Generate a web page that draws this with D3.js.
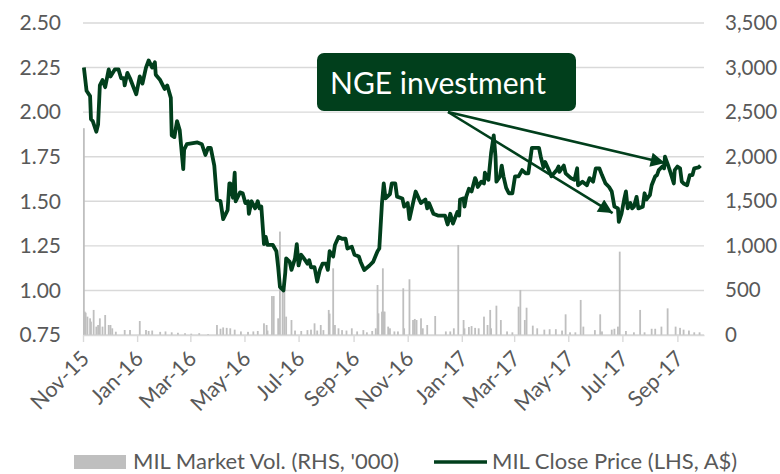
<!DOCTYPE html>
<html>
<head>
<meta charset="utf-8">
<script src="https://cdn.jsdelivr.net/npm/d3@7"></script>
<style>
  body { margin: 0; background: #fff; }
  svg { display: block; font-family: Lato, sans-serif; }
</style>
</head>
<body>
<div id="chart"></div>
<script>
// MIL close price (LHS, A$)
const priceDates = [
  "2015-11-02","2015-11-05","2015-11-09","2015-11-10","2015-11-12","2015-11-16","2015-11-18","2015-11-20","2015-11-23","2015-11-26",
  "2015-11-30","2015-12-02","2015-12-07","2015-12-11","2015-12-14","2015-12-17","2015-12-18","2015-12-21","2015-12-24","2015-12-31",
  "2016-01-04","2016-01-07","2016-01-11","2016-01-14","2016-01-18","2016-01-21","2016-01-22","2016-01-27","2016-02-01","2016-02-04",
  "2016-02-08","2016-02-09","2016-02-12","2016-02-15","2016-02-18","2016-02-22","2016-02-23","2016-02-26","2016-03-09","2016-03-14",
  "2016-03-18","2016-03-21","2016-03-24","2016-03-28","2016-03-31","2016-04-04","2016-04-07","2016-04-12","2016-04-14","2016-04-15",
  "2016-04-18","2016-04-20","2016-04-21","2016-04-26","2016-04-29","2016-05-02","2016-05-05","2016-05-06","2016-05-09","2016-05-13",
  "2016-05-16","2016-05-18","2016-05-20","2016-05-23","2016-05-25","2016-05-27","2016-06-02","2016-06-06","2016-06-08","2016-06-10",
  "2016-06-14","2016-06-16","2016-06-17","2016-06-21","2016-06-23","2016-06-27","2016-06-29","2016-07-01","2016-07-04","2016-07-07",
  "2016-07-11","2016-07-13","2016-07-15","2016-07-19","2016-07-22","2016-07-25","2016-07-28","2016-08-01","2016-08-03","2016-08-05",
  "2016-08-09","2016-08-11","2016-08-15","2016-08-19","2016-08-23","2016-08-25","2016-08-30","2016-09-02","2016-09-07","2016-09-09",
  "2016-09-13","2016-09-19","2016-09-23","2016-09-28","2016-09-30","2016-10-03","2016-10-05","2016-10-07","2016-10-12","2016-10-14",
  "2016-10-18","2016-10-20","2016-10-26","2016-10-28","2016-11-01","2016-11-03","2016-11-07","2016-11-10","2016-11-14","2016-11-16",
  "2016-11-21","2016-11-23","2016-11-25","2016-11-30","2016-12-05","2016-12-13","2016-12-16","2016-12-19","2016-12-22","2016-12-27",
  "2016-12-29","2016-12-30","2017-01-03","2017-01-04","2017-01-06","2017-01-09","2017-01-12","2017-01-16","2017-01-17","2017-01-19",
  "2017-01-23","2017-01-26","2017-01-27","2017-01-31","2017-02-03","2017-02-06","2017-02-08","2017-02-09","2017-02-13","2017-02-15",
  "2017-02-17","2017-02-20","2017-02-23","2017-02-27","2017-03-02","2017-03-06","2017-03-10","2017-03-14","2017-03-17","2017-03-21",
  "2017-03-29","2017-03-31","2017-04-03","2017-04-05","2017-04-10","2017-04-12","2017-04-18","2017-04-20","2017-04-21","2017-04-26",
  "2017-04-28","2017-05-04","2017-05-08","2017-05-11","2017-05-12","2017-05-17","2017-05-22","2017-05-25","2017-05-29","2017-06-01",
  "2017-06-05","2017-06-08","2017-06-12","2017-06-16","2017-06-19","2017-06-22","2017-06-26","2017-06-27","2017-06-30","2017-07-03",
  "2017-07-05","2017-07-07","2017-07-10","2017-07-12","2017-07-14","2017-07-17","2017-07-19","2017-07-24","2017-07-26","2017-07-28",
  "2017-08-01","2017-08-03","2017-08-07","2017-08-09","2017-08-11","2017-08-15","2017-08-17","2017-08-18","2017-08-22","2017-08-24",
  "2017-08-28","2017-08-29","2017-09-01","2017-09-04","2017-09-06","2017-09-08","2017-09-12","2017-09-15","2017-09-18","2017-09-20",
  "2017-09-25","2017-09-27"
];
const closePrice = [
  2.25, 2.12, 2.09, 1.96, 1.95, 1.89, 1.93, 2.15, 2.18, 2.14,
  2.24, 2.20, 2.24, 2.24, 2.19, 2.19, 2.15, 2.22, 2.19, 2.10,
  2.20, 2.16, 2.25, 2.29, 2.25, 2.28, 2.21, 2.18, 2.13, 2.15,
  2.08, 1.87, 1.86, 1.95, 1.90, 1.68, 1.79, 1.82, 1.83, 1.82,
  1.76, 1.80, 1.80, 1.70, 1.51, 1.50, 1.40, 1.45, 1.60, 1.60,
  1.52, 1.66, 1.50, 1.55, 1.545, 1.49, 1.50, 1.43, 1.50, 1.46,
  1.50, 1.46, 1.47, 1.26, 1.30, 1.255, 1.255, 1.22, 1.13, 1.02,
  1.00, 1.10, 1.18, 1.16, 1.115, 1.18, 1.26, 1.14, 1.20, 1.18,
  1.15, 1.17, 1.13, 1.13, 1.05, 1.115, 1.15, 1.15, 1.115, 1.22,
  1.19, 1.255, 1.30, 1.29, 1.29, 1.235, 1.245, 1.20, 1.19, 1.16,
  1.115, 1.14, 1.16, 1.22, 1.235, 1.49, 1.60, 1.516, 1.54, 1.60,
  1.60, 1.526, 1.516, 1.47, 1.49, 1.40, 1.49, 1.555, 1.51, 1.49,
  1.51, 1.46, 1.49, 1.43, 1.42, 1.42, 1.37, 1.43, 1.375, 1.44,
  1.42, 1.51, 1.516, 1.47, 1.526, 1.57, 1.555, 1.63, 1.62, 1.58,
  1.61, 1.60, 1.66, 1.62, 1.77, 1.87, 1.75, 1.61, 1.64, 1.70,
  1.64, 1.575, 1.545, 1.545, 1.64, 1.64, 1.675, 1.657, 1.657, 1.80,
  1.80, 1.75, 1.69, 1.72, 1.665, 1.64, 1.675, 1.695, 1.665, 1.70,
  1.657, 1.63, 1.62, 1.685, 1.59, 1.61, 1.59, 1.63, 1.61, 1.685,
  1.685, 1.647, 1.60, 1.58, 1.555, 1.47, 1.46, 1.385, 1.43, 1.51,
  1.555, 1.46, 1.49, 1.46, 1.47, 1.525, 1.46, 1.47, 1.545, 1.51,
  1.535, 1.59, 1.64, 1.647, 1.675, 1.695, 1.685, 1.75, 1.695, 1.665,
  1.60, 1.675, 1.695, 1.685, 1.61, 1.60, 1.59, 1.647, 1.647, 1.685,
  1.69, 1.70
];

// MIL market volume (RHS, '000)
const volDates = [
  "2015-11-02","2015-11-03","2015-11-04","2015-11-06","2015-11-09","2015-11-10","2015-11-13","2015-11-16","2015-11-18","2015-11-20",
  "2015-11-23","2015-11-26","2015-11-30","2015-12-02","2015-12-04","2015-12-08","2015-12-18","2015-12-24","2016-01-04","2016-01-11",
  "2016-01-14","2016-01-18","2016-01-27","2016-02-02","2016-02-09","2016-02-16","2016-02-24","2016-03-02","2016-03-11","2016-03-21",
  "2016-03-31","2016-04-04","2016-04-07","2016-04-11","2016-04-15","2016-04-20","2016-04-27","2016-05-05","2016-05-11","2016-05-16",
  "2016-05-23","2016-05-26","2016-05-27","2016-06-01","2016-06-03","2016-06-08","2016-06-10","2016-06-13","2016-06-15","2016-06-17",
  "2016-06-23","2016-06-27","2016-07-04","2016-07-11","2016-07-15","2016-07-19","2016-07-22","2016-07-26","2016-07-29","2016-08-04",
  "2016-08-05","2016-08-09","2016-08-11","2016-08-15","2016-08-19","2016-08-24","2016-08-30","2016-09-05","2016-09-12","2016-09-16",
  "2016-09-22","2016-09-26","2016-09-28","2016-09-29","2016-10-03","2016-10-04","2016-10-05","2016-10-06","2016-10-10","2016-10-12",
  "2016-10-17","2016-10-21","2016-10-27","2016-10-28","2016-11-03","2016-11-07","2016-11-09","2016-11-11","2016-11-16","2016-11-18",
  "2016-11-23","2016-12-02","2016-12-14","2016-12-19","2016-12-23","2016-12-28","2017-01-03","2017-01-04","2017-01-09","2017-01-12",
  "2017-01-16","2017-01-20","2017-01-26","2017-01-30","2017-02-02","2017-02-03","2017-02-09","2017-02-14","2017-02-21","2017-02-27",
  "2017-03-06","2017-03-08","2017-03-13","2017-03-15","2017-03-22","2017-03-27","2017-04-04","2017-04-10","2017-04-17","2017-04-24",
  "2017-04-28","2017-05-03","2017-05-09","2017-05-15","2017-05-18","2017-05-31","2017-06-06","2017-06-08","2017-06-19","2017-06-22",
  "2017-06-26","2017-06-28","2017-07-05","2017-07-14","2017-07-21","2017-07-26","2017-08-03","2017-08-07","2017-08-14","2017-08-21",
  "2017-08-30","2017-09-04","2017-09-08","2017-09-14","2017-09-20","2017-09-26"
];
const volume = [
  2320, 262, 250, 206, 187, 150, 281, 94, 112, 187,
  94, 224, 112, 112, 75, 37, 56, 56, 157, 56,
  45, 50, 35, 40, 30, 25, 20, 15, 20, 10,
  112, 70, 85, 80, 75, 60, 40, 35, 40, 45,
  131, 112, 50, 437, 437, 187, 1160, 524, 524, 206,
  168, 50, 45, 55, 60, 131, 50, 112, 55, 281,
  240, 748, 112, 75, 55, 50, 75, 40, 55, 30,
  45, 75, 561, 243, 262, 748, 262, 262, 94, 75,
  40, 40, 524, 75, 625, 168, 180, 168, 187, 75,
  112, 213, 40, 40, 75, 1010, 168, 75, 90, 100,
  80, 75, 206, 112, 281, 75, 329, 168, 40, 30,
  318, 505, 168, 306, 105, 75, 60, 65, 65, 50,
  232, 30, 30, 393, 94, 55, 232, 40, 60, 70,
  94, 935, 45, 30, 281, 30, 70, 70, 94, 299,
  94, 80, 60, 50, 30, 30
];

const leftTicks = [0.75, 1.00, 1.25, 1.50, 1.75, 2.00, 2.25, 2.50];
const rightTicks = [0, 500, 1000, 1500, 2000, 2500, 3000, 3500];
const xTickDates = ["2015-11-01","2016-01-01","2016-03-01","2016-05-01","2016-07-01","2016-09-01",
                    "2016-11-01","2017-01-01","2017-03-01","2017-05-01","2017-07-01","2017-09-01"];

// annotation: arrows point at these (date, price)
const noteText = "NGE investment";
const noteTargets = [["2017-06-20", 1.434], ["2017-08-18", 1.715]];

const W = 780, H = 474;
const margin = {top: 23, right: 76, bottom: 139, left: 83};
const green = "#013f1c", grey = "#595959", gridCol = "#d9d9d9";

const parse = d3.timeParse("%Y-%m-%d");
const fmtX = d3.timeFormat("%b-%y");

const prices = priceDates.map((d, i) => ({date: parse(d), value: closePrice[i]}));
const vols = volDates.map((d, i) => ({date: parse(d), value: volume[i]}));

const svg = d3.select("#chart").append("svg")
    .attr("width", W)
    .attr("height", H);

const x = d3.scaleTime()
    .domain([parse("2015-11-01"), parse("2017-10-01")])
    .range([margin.left, W - margin.right]);
const yL = d3.scaleLinear().domain([0.75, 2.5]).range([H - margin.bottom, margin.top]);
const yR = d3.scaleLinear().domain([0, 3500]).range([H - margin.bottom, margin.top]);

// gridlines
svg.append("g")
    .selectAll("line")
    .data(leftTicks)
    .enter().append("line")
    .attr("x1", margin.left)
    .attr("x2", W - margin.right)
    .attr("y1", d => yL(d))
    .attr("y2", d => yL(d))
    .attr("stroke", gridCol)
    .attr("stroke-width", 1.4);

// left axis
const axL = svg.append("g")
    .attr("transform", "translate(" + (margin.left - 22) + ",0)")
    .call(d3.axisLeft(yL).tickValues(leftTicks).tickFormat(d3.format(".2f")).tickSize(0).tickPadding(0));
axL.select(".domain").remove();
axL.selectAll("text").attr("fill", grey).style("font-size", "21px").style("font-family", "Lato");

// right axis
const axR = svg.append("g")
    .attr("transform", "translate(" + (W - margin.right + 21) + ",0)")
    .call(d3.axisRight(yR).tickValues(rightTicks).tickFormat(d3.format(",")).tickSize(0).tickPadding(0));
axR.select(".domain").remove();
axR.selectAll("text").attr("fill", grey).style("font-size", "20.5px").style("font-family", "Lato");

// volume bars
svg.append("g")
    .selectAll("rect")
    .data(vols)
    .enter().append("rect")
    .attr("x", d => x(d.date) - 0.9)
    .attr("width", 1.8)
    .attr("y", d => yR(d.value))
    .attr("height", d => yR(0) - yR(d.value))
    .attr("fill", "#bfbfbf");

// bottom axis
const axB = svg.append("g")
    .attr("transform", "translate(0," + (H - margin.bottom) + ")")
    .call(d3.axisBottom(x).tickValues(xTickDates.map(parse)).tickFormat(fmtX).tickSize(7).tickSizeOuter(0));
axB.select(".domain").attr("stroke", gridCol).attr("stroke-width", 1.4);
axB.selectAll(".tick line").attr("stroke", gridCol).attr("stroke-width", 1.4);
axB.selectAll("text")
    .attr("fill", grey)
    .style("font-size", "21.5px")
    .style("font-family", "Lato")
    .attr("text-anchor", "end")
    .attr("y", 0)
    .attr("dy", 0)
    .attr("transform", "translate(7,25) rotate(-45)");

// price line
svg.append("path")
    .datum(prices)
    .attr("fill", "none")
    .attr("stroke", green)
    .attr("stroke-width", 3.8)
    .attr("stroke-linejoin", "round")
    .attr("d", d3.line().x(d => x(d.date)).y(d => yL(d.value)));

// annotation
svg.append("defs").append("marker")
    .attr("id", "arrow")
    .attr("viewBox", "0 0 10 10")
    .attr("refX", 10).attr("refY", 5)
    .attr("markerWidth", 6.5).attr("markerHeight", 5.5)
    .attr("markerUnits", "strokeWidth")
    .attr("orient", "auto")
    .append("path").attr("d", "M0,0L10,5L0,10z").attr("fill", green);

const noteFrom = [448, 112];
svg.append("g")
    .selectAll("line")
    .data(noteTargets)
    .enter().append("line")
    .attr("x1", noteFrom[0]).attr("y1", noteFrom[1])
    .attr("x2", d => x(parse(d[0])))
    .attr("y2", d => yL(d[1]))
    .attr("stroke", green)
    .attr("stroke-width", 2.6)
    .attr("marker-end", "url(#arrow)");

svg.append("rect")
    .attr("x", 317).attr("y", 53)
    .attr("width", 259).attr("height", 58)
    .attr("rx", 7)
    .attr("fill", green);
svg.append("text")
    .attr("x", 330).attr("y", 94)
    .attr("fill", "#fff")
    .style("font-size", "30px")
    .text(noteText);

// legend
const lg = svg.append("g").style("font-size", "22px").attr("fill", grey);
lg.append("rect").attr("x", 74).attr("y", 455).attr("width", 52).attr("height", 14).attr("fill", "#bfbfbf");
lg.append("text").attr("x", 133).attr("y", 469).text("MIL Market Vol. (RHS, '000)");
lg.append("line").attr("x1", 434).attr("x2", 487).attr("y1", 462).attr("y2", 462)
    .attr("stroke", green).attr("stroke-width", 3.5);
lg.append("text").attr("x", 492).attr("y", 469).text("MIL Close Price (LHS, A$)");
</script>
</body>
</html>
